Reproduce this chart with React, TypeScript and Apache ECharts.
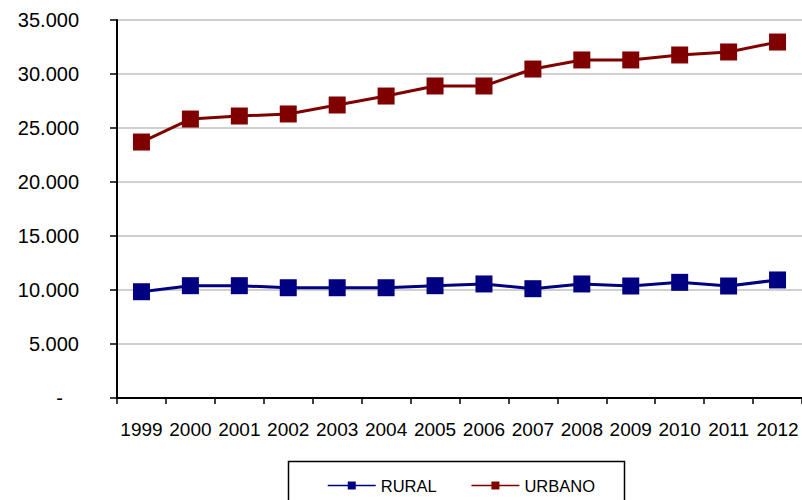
import React, { useEffect, useRef } from "react";
import * as echarts from "echarts";

const years = ["1999", "2000", "2001", "2002", "2003", "2004", "2005", "2006", "2007", "2008", "2009", "2010", "2011", "2012"];
const rural = [9840, 10400, 10400, 10210, 10210, 10210, 10400, 10560, 10120, 10560, 10370, 10710, 10370, 10930];
const urbano = [23700, 25830, 26110, 26300, 27130, 27960, 28890, 28890, 30460, 31300, 31300, 31760, 32040, 32960];
const yMax = 35000;
const yStep = 5000;

const FONT = "'Liberation Sans', Arial, Helvetica, sans-serif";

function fmt(v: number): string {
  if (v === 0) return "{dash|-}";
  const s = String(Math.round(v));
  return s.replace(/\B(?=(\d{3})+(?!\d))/g, ".");
}

export default function App() {
  const ref = useRef<HTMLDivElement>(null);
  useEffect(() => {
    if (!ref.current) return;
    const chart = echarts.init(ref.current, undefined, { renderer: "svg" });
    chart.setOption({
      animation: false,
      backgroundColor: "#ffffff",
      grid: { left: 117, top: 20, right: 0, bottom: 102, containLabel: false },
      xAxis: {
        type: "category",
        data: years,
        boundaryGap: true,
        axisLine: { lineStyle: { color: "#000", width: 2 } },
        axisTick: { show: true, length: 6, lineStyle: { color: "#000", width: 1.5 } },
        axisLabel: { color: "#000", fontSize: 19, fontFamily: FONT, margin: 22, interval: 0 },
        splitLine: { show: false },
      },
      yAxis: {
        type: "value",
        min: 0,
        max: yMax,
        interval: yStep,
        axisLine: { show: true, lineStyle: { color: "#000", width: 2 } },
        axisTick: { show: true, length: 7, lineStyle: { color: "#000", width: 1.5 } },
        axisLabel: {
          color: "#000",
          fontSize: 20,
          fontFamily: FONT,
          margin: 38,
          formatter: fmt,
          rich: { dash: { padding: [0, 16, 0, 0], fontSize: 20, fontFamily: FONT, color: "#000" } },
        },
        splitLine: { show: true, lineStyle: { color: "#c0c0c0", width: 1.5 } },
      },
      legend: {
        data: ["RURAL", "URBANO"],
        left: 327,
        top: 477,
        padding: 0,
        itemGap: 34,
        itemWidth: 48,
        itemHeight: 10,
        textStyle: { color: "#000", fontSize: 16.5, fontFamily: FONT, padding: [0, 0, 0, 0] },
        lineStyle: { width: 1.5 },
      },
      graphic: [
        {
          type: "rect",
          shape: { x: 288.5, y: 461.5, width: 336, height: 60 },
          style: { fill: "none", stroke: "#000", lineWidth: 1.5 },
          silent: true,
        },
      ],
      series: [
        {
          name: "RURAL",
          type: "line",
          data: rural,
          symbol: "rect",
          symbolSize: 17,
          color: "#000080",
          lineStyle: { color: "#000080", width: 3 },
          itemStyle: { color: "#000080" },
        },
        {
          name: "URBANO",
          type: "line",
          data: urbano,
          symbol: "rect",
          symbolSize: 17,
          color: "#800000",
          lineStyle: { color: "#800000", width: 3 },
          itemStyle: { color: "#800000" },
        },
      ],
    });
    return () => chart.dispose();
  }, []);
  return (
    <div
      ref={ref}
      style={{ position: "fixed", left: 0, top: 0, width: 802, height: 500, background: "#fff" }}
    />
  );
}
